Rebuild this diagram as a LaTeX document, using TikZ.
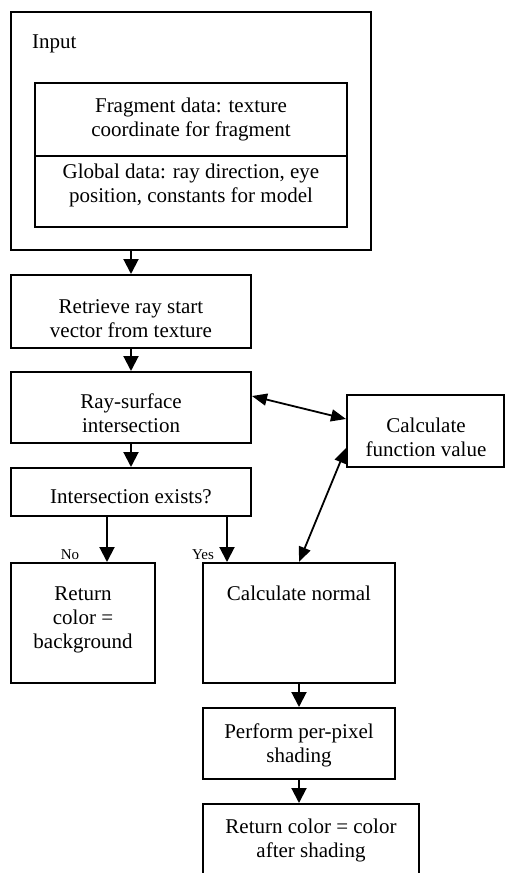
\documentclass[tikz,border=0pt]{standalone}
\usepackage{fontspec}
\setmainfont{Liberation Serif}
\usetikzlibrary{arrows.meta,calc}
\tikzset{
  box/.style={draw, line width=2pt, inner sep=0pt},
  txt/.style={font=\fontsize{21}{24}\selectfont, align=center, inner sep=0pt},
  lbl/.style={font=\fontsize{15}{17}\selectfont, inner sep=0pt},
  arr/.style={line width=2pt, -{Triangle[width=15pt,length=15pt]}},
  dbl/.style={line width=1.8pt, {Triangle[width=12pt,length=15pt]}-{Triangle[width=12pt,length=15pt]}},
}
\begin{document}
\begin{tikzpicture}[x=1pt,y=-1pt]
\useasboundingbox (0,0) rectangle (505,873);
\clip (0,0) rectangle (505,873);
\fill[white] (0,0) rectangle (505,873);
% input group
\node[box, minimum width=360pt, minimum height=238pt] (inp) at (191,131) {};
\node[txt, anchor=base west] (inpt) at (32,48) {Input};
\node[box, minimum width=312pt, minimum height=73pt] (frag) at (191,119.5) {};
\node[txt] (fragt) at (191,119.2) {\strut Fragment data: texture\\\strut coordinate for fragment};
\node[box, minimum width=312pt, minimum height=71pt] (glob) at (191,191.5) {};
\node[txt] (globt) at (191,185.2) {\strut Global data: ray direction, eye\\\strut position, constants for model};
% main column
\node[box, minimum width=240pt, minimum height=73pt] (retr) at (131,311.5) {};
\node[txt] (retrt) at (131,320.2) {\strut Retrieve ray start\\\strut vector from texture};
\node[box, minimum width=240pt, minimum height=71pt] (ray) at (131,407.5) {};
\node[txt] (rayt) at (131,415.2) {\strut Ray-surface\\\strut intersection};
\node[box, minimum width=240pt, minimum height=48pt] (isect) at (131,492) {};
\node[txt, anchor=base] (isectt) at (131,503) {Intersection exists?};
\node[box, minimum width=144pt, minimum height=120pt] (bg) at (83,623) {};
\node[txt] (bgt) at (83,619.2) {\strut Return\\\strut color =\\\strut background};
\node[box, minimum width=192pt, minimum height=120pt] (norm) at (299,623) {};
\node[txt, anchor=base] (normt) at (299,600) {Calculate normal};
\node[box, minimum width=192pt, minimum height=71pt] (perf) at (299,743.5) {};
\node[txt] (perft) at (299,745.2) {\strut Perform per-pixel\\\strut shading};
\node[box, minimum width=216pt, minimum height=100pt] (ret) at (311,854) {};
\node[txt] (rett) at (311,840.2) {\strut Return color = color\\\strut after shading};
\node[box, minimum width=157pt, minimum height=72pt] (func) at (425.5,431) {};
\node[txt] (funct) at (426,439.2) {\strut Calculate\\\strut function value};
% labels
\node[lbl, anchor=base] (no) at (70,559) {No};
\node[lbl, anchor=base] (yes) at (203,559) {Yes};
% connectors
\draw[arr] (retr.north |- inp.south) -- (retr.north);
\draw[arr] (retr.south) -- (ray.north);
\draw[arr] (ray.south) -- (isect.north);
\draw[arr] ([xshift=-24pt]isect.south) -- ([xshift=-24pt]isect.south |- bg.north);
\draw[arr] ([xshift=96pt]isect.south) -- ([xshift=96pt]isect.south |- norm.north);
\draw[arr] (norm.south) -- (perf.north);
\draw[arr] (perf.south) -- (perf.south |- ret.north);
\draw[dbl] ([yshift=11.5pt]ray.east) -- ([yshift=12pt]func.west);
\draw[dbl] ([yshift=-17pt]func.west) -- (norm.north);
\end{tikzpicture}
\end{document}
